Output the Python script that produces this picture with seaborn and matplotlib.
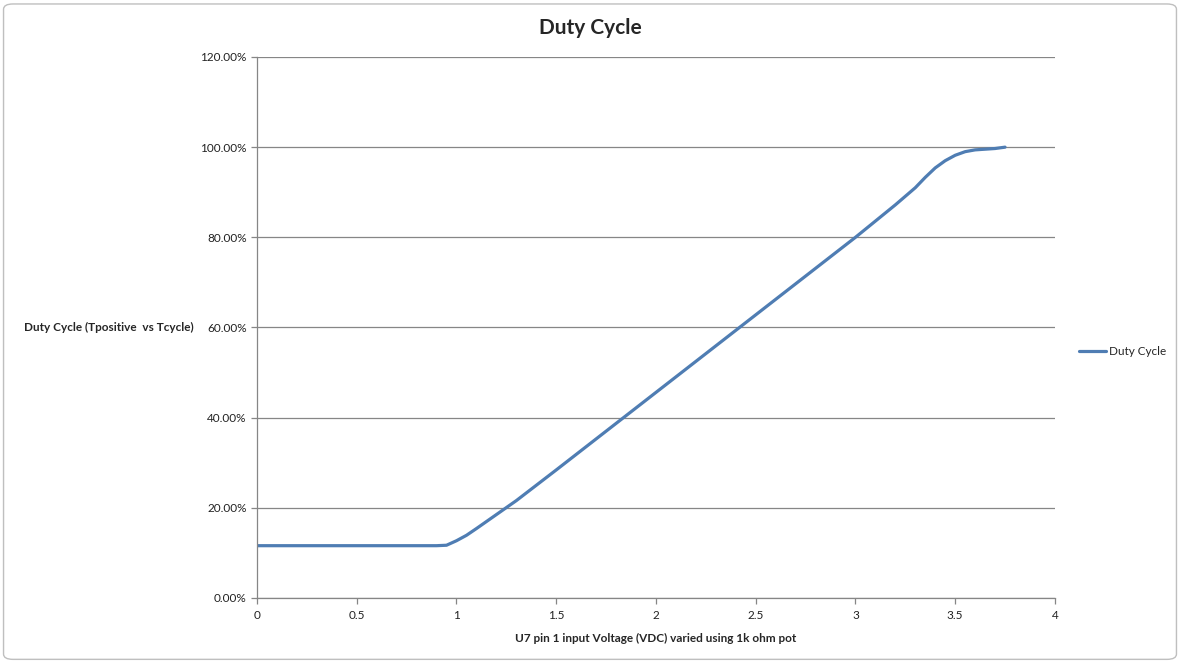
import matplotlib
matplotlib.use("Agg")
import matplotlib.pyplot as plt
import matplotlib.ticker as mticker
from matplotlib.patches import FancyBboxPatch
import pandas as pd
import seaborn as sns

sns.set_style("white")
plt.rcParams["font.family"] = ["Lato", "DejaVu Sans"]

# input voltage (V) and measured duty cycle (%)
voltage = [0.0, 0.25, 0.5, 0.75, 0.9, 0.95, 1.0, 1.05, 1.1, 1.2, 1.3, 1.5,
           2.0, 2.5, 3.0, 3.2, 3.3, 3.35, 3.4, 3.45, 3.5, 3.55, 3.6, 3.7, 3.75]
duty = [11.6, 11.6, 11.6, 11.6, 11.6, 11.7, 12.7, 13.9, 15.4, 18.5, 21.6, 28.4,
        45.6, 62.8, 80.0, 87.2, 91.0, 93.3, 95.4, 97.0, 98.2, 99.0, 99.4, 99.7, 100.0]
series_name = "Duty Cycle"

df = pd.DataFrame({"V": voltage, "duty": duty, "series": series_name})

fig = plt.figure(figsize=(11.8, 6.62), dpi=100)
ax = fig.add_axes([0.2178, 0.0967, 0.6762, 0.8172])

fig.patches.append(FancyBboxPatch((0.003, 0.004), 0.994, 0.99,
                                  boxstyle="round,pad=0,rounding_size=0.008",
                                  transform=fig.transFigure, fill=False,
                                  edgecolor="#bfbfbf", lw=1.0))

sns.lineplot(data=df, x="V", y="duty", hue="series", palette=["#4f7db3"],
             lw=2.3, ax=ax, sort=True)

ax.set_xlim(0, 4)
ax.set_ylim(0, 120)
ax.set_xticks([0, 0.5, 1, 1.5, 2, 2.5, 3, 3.5, 4])
ax.set_xticklabels(["0", "0.5", "1", "1.5", "2", "2.5", "3", "3.5", "4"])
ax.set_yticks(range(0, 121, 20))
ax.yaxis.set_major_formatter(mticker.FuncFormatter(lambda v, p: f"{v:.2f}%"))
ax.grid(axis="y", color="#868686", lw=0.9)
ax.set_axisbelow(True)
for s in ["top", "right"]:
    ax.spines[s].set_visible(False)
for s in ["left", "bottom"]:
    ax.spines[s].set_color("#868686")
    ax.spines[s].set_linewidth(0.9)
ax.tick_params(axis="both", which="major", length=4, width=0.9,
               color="#868686", labelsize=8.5, labelcolor="#222222",
               direction="out", left=True, bottom=True)
ax.tick_params(axis="x", pad=5)

ax.set_xlabel("U7 pin 1 input Voltage (VDC) varied using 1k ohm pot",
              fontsize=8.5, fontweight="bold", labelpad=8)
ax.set_ylabel("")
fig.text(0.092, 0.506, "Duty Cycle (Tpositive  vs Tcycle)", fontsize=8.5,
         fontweight="bold", ha="center", va="center")
fig.text(0.5, 0.958, "Duty Cycle", fontsize=15, fontweight="bold",
         ha="center", va="center")

ax.legend(loc="center left", bbox_to_anchor=(1.017, 0.455), frameon=False,
          fontsize=8.5, handlelength=2.3, handletextpad=0.2, title=None)

fig.savefig("out.png", dpi=100)
